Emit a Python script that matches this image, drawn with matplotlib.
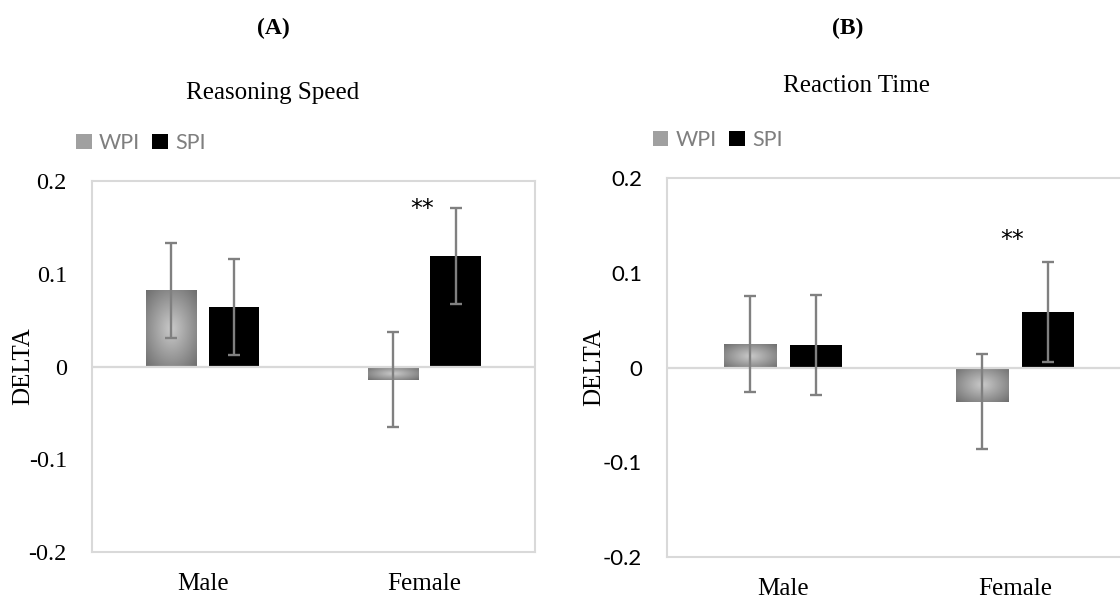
import matplotlib
matplotlib.use("Agg")
import matplotlib.pyplot as plt
import numpy as np
from matplotlib.colors import LinearSegmentedColormap
from matplotlib.patches import Patch

# data
groups = ["Male", "Female"]
series = ["WPI", "SPI"]
ytick_vals = [-0.2, -0.1, 0.0, 0.1, 0.2]
ytick_labels = ["-0.2", "-0.1", "0", "0.1", "0.2"]

rs_wpi = [0.082, -0.014]
rs_wpi_err = [0.051, 0.051]
rs_spi = [0.064, 0.119]
rs_spi_err = [0.052, 0.052]

rt_wpi = [0.025, -0.036]
rt_wpi_err = [0.051, 0.0505]
rt_spi = [0.024, 0.0585]
rt_spi_err = [0.053, 0.0525]

SERIF = ["Liberation Serif", "DejaVu Serif"]
SANS = ["Lato", "DejaVu Sans"]
GRID = "#d9d9d9"
ERR = "#808080"
grad = LinearSegmentedColormap.from_list("wpi", ["#cacaca", "#6e6e6e"])


def shade(ax, bar):
    # radial grey gradient like the Excel fill
    x, y = bar.get_x(), bar.get_y()
    w, h = bar.get_width(), bar.get_height()
    u = np.linspace(-1, 1, 80)
    U, V = np.meshgrid(u, u)
    R = np.clip(np.sqrt(U ** 2 + V ** 2) / np.sqrt(2), 0, 1)
    im = ax.imshow(R, cmap=grad, vmin=0, vmax=1, extent=(x, x + w, y, y + h),
                   aspect="auto", interpolation="bilinear", zorder=2)
    im.set_clip_path(bar)


def panel(ax, wpi, wpi_err, spi, spi_err, tick_font, tick_size, star_y):
    x = np.arange(len(groups))
    off, bw = 0.142, 0.227
    b1 = ax.bar(x - off, wpi, bw, facecolor="none", edgecolor="none", zorder=2)
    for b in b1:
        shade(ax, b)
    ax.bar(x + off, spi, bw, color="black", zorder=2)
    ax.axhline(0, color=GRID, lw=1.6, zorder=2.5)
    ekw = dict(fmt="none", ecolor=ERR, elinewidth=1.7, capsize=4, capthick=1.7, zorder=3)
    ax.errorbar(x - off, wpi, yerr=wpi_err, **ekw)
    ax.errorbar(x + off, spi, yerr=spi_err, **ekw)

    ax.set_xlim(-0.5, 1.5)
    ax.set_ylim(-0.2, 0.2)
    ax.set_yticks(ytick_vals)
    ax.set_yticklabels(ytick_labels, family=tick_font, fontsize=tick_size)
    ax.set_xticks(x)
    ax.set_xticklabels(groups, family=SERIF, fontsize=18)
    ax.tick_params(axis="both", length=0)
    ax.tick_params(axis="x", pad=15)
    ax.tick_params(axis="y", pad=18)
    for s in ax.spines.values():
        s.set_color(GRID)
        s.set_linewidth(1.5)
    ax.set_ylabel("DELTA", family=SERIF, fontsize=18, va="center")
    ax.yaxis.set_label_coords(-0.156, 0.5)
    ax.text(0.99, star_y, "**", family="DejaVu Sans", fontsize=17, ha="center", va="center")

    handles = [Patch(facecolor="#a0a0a0"), Patch(facecolor="black")]
    return handles


fig = plt.figure(figsize=(11.2, 6.01), dpi=100)
axA = fig.add_axes([0.0821, 0.0815, 0.3955, 0.6173])
axB = fig.add_axes([0.5955, 0.0732, 0.4143, 0.6306])

hA = panel(axA, rs_wpi, rs_wpi_err, rs_spi, rs_spi_err, SERIF, 17.5, 0.170)
hB = panel(axB, rt_wpi, rt_wpi_err, rt_spi, rt_spi_err, SANS, 16, 0.135)

leg_kw = dict(loc="center left", bbox_transform=fig.transFigure, frameon=False, ncol=2,
              borderpad=0, borderaxespad=0, handlelength=0.72, handleheight=0.65,
              handletextpad=0.35, columnspacing=0.55, prop={"family": SANS, "size": 15.5})
lA = axA.legend(hA, series, bbox_to_anchor=(0.0679, 0.762), **leg_kw)
lB = axB.legend(hB, series, bbox_to_anchor=(0.583, 0.767), **leg_kw)
for lg in (lA, lB):
    for t in lg.get_texts():
        t.set_color("#7f7f7f")

fig.text(273 / 1120, 1 - 28 / 601, "(A)", family=SERIF, fontsize=17, fontweight="bold",
         ha="center", va="center")
fig.text(848 / 1120, 1 - 28 / 601, "(B)", family=SERIF, fontsize=17, fontweight="bold",
         ha="center", va="center")
fig.text(273 / 1120, 1 - 93 / 601, "Reasoning Speed", family=SERIF, fontsize=18,
         ha="center", va="center")
fig.text(857 / 1120, 1 - 86 / 601, "Reaction Time", family=SERIF, fontsize=18,
         ha="center", va="center")

fig.savefig("out.png", dpi=100)
